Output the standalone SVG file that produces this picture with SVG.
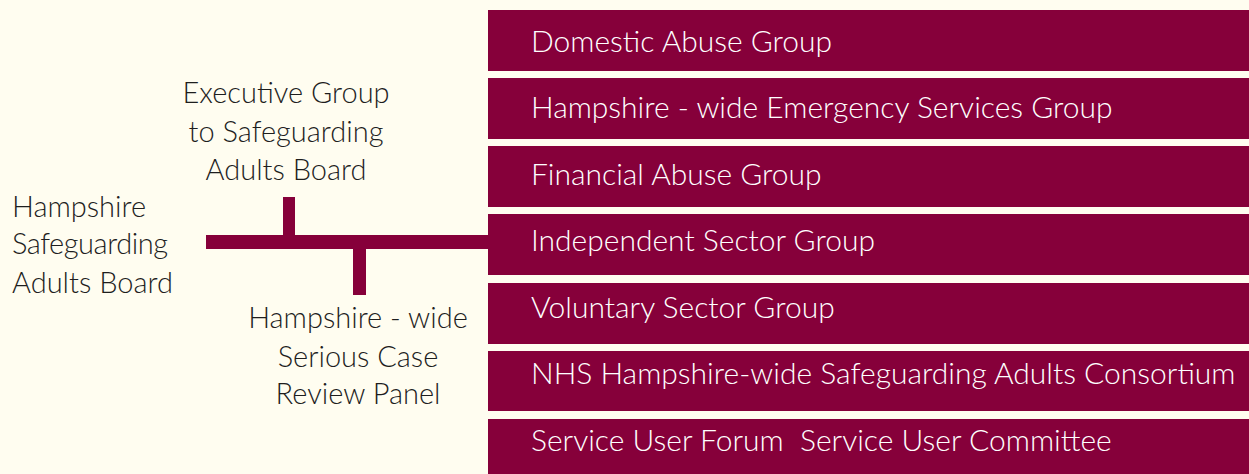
<svg xmlns="http://www.w3.org/2000/svg" width="1249" height="474" viewBox="0 0 1249 474">
<style>
.bg{fill:#fffdf0}
.box{fill:#86003a}
.bar{fill:#86003a}
.wt{font-family:Lato,"Liberation Sans",sans-serif;font-size:30px;font-weight:300;fill:#ffffff;white-space:pre}
.dk{font-family:Lato,"Liberation Sans",sans-serif;font-size:29px;font-weight:300;fill:#1e1e1e}
</style>
<rect class="bg" x="0" y="0" width="1249" height="474"/>
<g id="connectors">
<rect class="bar" x="206" y="235" width="284" height="14"/>
<rect class="bar" x="283" y="197" width="12" height="38"/>
<rect class="bar" x="353" y="249" width="13" height="46"/>
</g>
<g id="board">
<text class="dk" x="12" y="217">Hampshire</text>
<text class="dk" x="12" y="254" textLength="156">Safeguarding</text>
<text class="dk" x="12" y="293">Adults Board</text>
</g>
<g id="executive">
<text class="dk" text-anchor="middle" x="286" y="103">Executive Group</text>
<text class="dk" text-anchor="middle" x="286" y="142">to Safeguarding</text>
<text class="dk" text-anchor="middle" x="286" y="180">Adults Board</text>
</g>
<g id="scrp">
<text class="dk" text-anchor="middle" x="358" y="328">Hampshire - wide</text>
<text class="dk" text-anchor="middle" x="358" y="367">Serious Case</text>
<text class="dk" text-anchor="middle" x="358" y="404">Review Panel</text>
</g>
<g id="g1"><rect class="box" x="488" y="10" width="761" height="61"/><text class="wt" x="531" y="52">Domestic Abuse Group</text></g>
<g id="g2"><rect class="box" x="488" y="78" width="761" height="61"/><text class="wt" x="531" y="118">Hampshire - wide Emergency Services Group</text></g>
<g id="g3"><rect class="box" x="488" y="146" width="761" height="61"/><text class="wt" x="531" y="185">Financial Abuse Group</text></g>
<g id="g4"><rect class="box" x="488" y="214" width="761" height="61"/><text class="wt" x="531" y="251">Independent Sector Group</text></g>
<g id="g5"><rect class="box" x="488" y="283" width="761" height="61"/><text class="wt" x="531" y="318">Voluntary Sector Group</text></g>
<g id="g6"><rect class="box" x="488" y="351" width="761" height="60"/><text class="wt" x="531" y="384">NHS Hampshire-wide Safeguarding Adults Consortium</text></g>
<g id="g7"><rect class="box" x="488" y="419" width="761" height="55"/><text class="wt" x="531" y="451">Service User Forum  Service User Committee</text></g>
</svg>
